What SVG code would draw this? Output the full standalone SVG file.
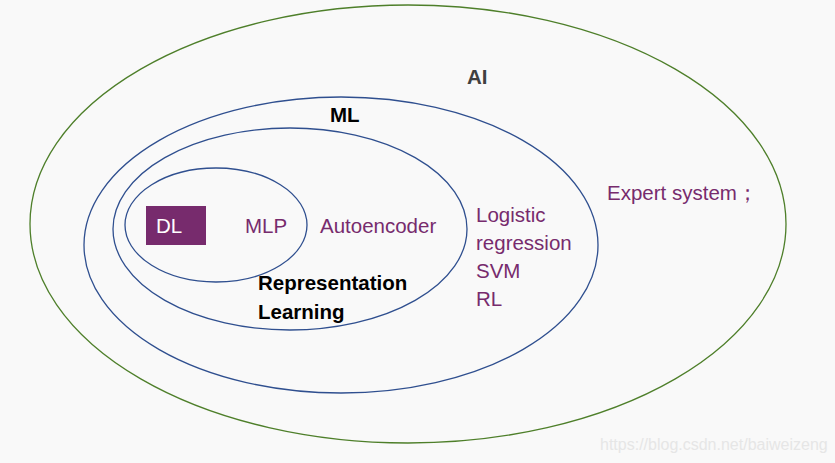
<svg xmlns="http://www.w3.org/2000/svg" width="835" height="463" viewBox="0 0 835 463">
<style>
.e{fill:none;stroke-width:1.3}
.blue{stroke:#2F4F8F}
.green{stroke:#4E7F2A}
.p{font-family:"Liberation Sans",Arial,sans-serif;font-size:20.5px;fill:#772B6D}
.b{font-family:"Liberation Sans",Arial,sans-serif;font-size:20.5px;font-weight:bold;fill:#000}
</style>
<rect width="835" height="463" fill="#F9F9F9"/>
<g id="ai">
<ellipse class="e green" cx="408" cy="224" rx="378" ry="219"/>
<text class="b" x="467" y="84" style="fill:#404040">AI</text>
<text class="p" x="607" y="200">Expert system；</text>
</g>
<g id="ml">
<ellipse class="e blue" cx="341" cy="245" rx="257" ry="148"/>
<text class="b" x="330" y="122">ML</text>
<text class="p" x="476" y="222">Logistic</text>
<text class="p" x="476" y="250">regression</text>
<text class="p" x="476" y="278">SVM</text>
<text class="p" x="476" y="306">RL</text>
</g>
<g id="rl">
<ellipse class="e blue" cx="290" cy="229" rx="177" ry="101"/>
<text class="p" x="320" y="233">Autoencoder</text>
<text class="b" x="258" y="290">Representation</text>
<text class="b" x="258" y="319">Learning</text>
</g>
<g id="dl">
<ellipse class="e blue" cx="216" cy="225" rx="91" ry="57"/>
<rect x="146" y="206" width="60" height="39" fill="#772B6D"/>
<text class="p" x="156" y="233" style="fill:#fff">DL</text>
<text class="p" x="245" y="233">MLP</text>
</g>
<g id="connectors"></g>
<text x="600" y="450" font-family="Liberation Sans,Arial,sans-serif" font-size="16" fill="#E6E6E6">https://blog.csdn.net/baiweizeng</text>
</svg>
